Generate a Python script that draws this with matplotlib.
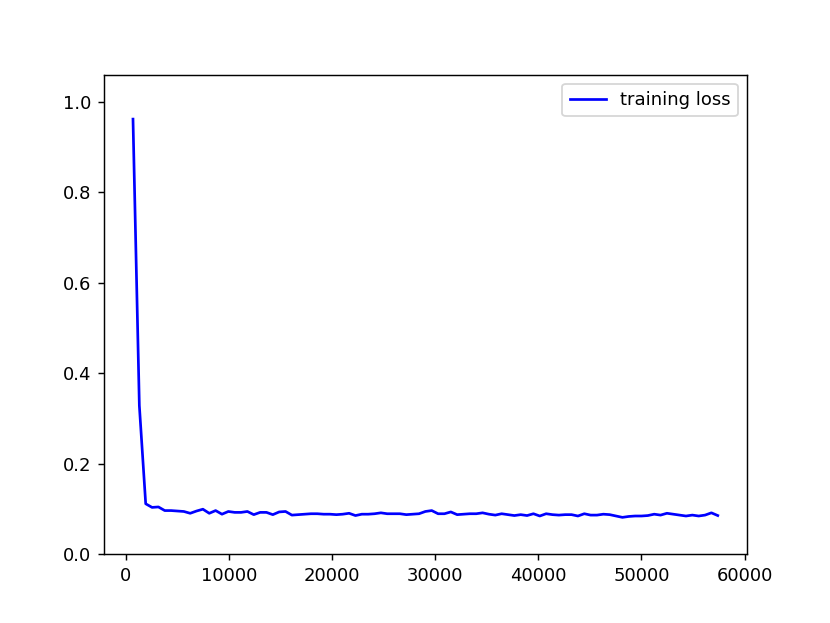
import matplotlib
matplotlib.use('Agg')
import matplotlib.pyplot as plt
import numpy as np

# training loss logged at equal step intervals
first_step = 680
last_step = 57400
loss = [0.962, 0.329, 0.112, 0.104, 0.105, 0.097, 0.097, 0.096, 0.095, 0.091,
        0.096, 0.100, 0.091, 0.097, 0.089, 0.095, 0.093, 0.093, 0.095, 0.088,
        0.093, 0.093, 0.088, 0.094, 0.095, 0.087, 0.088, 0.089, 0.090, 0.090,
        0.089, 0.089, 0.088, 0.089, 0.091, 0.086, 0.089, 0.089, 0.090, 0.092,
        0.090, 0.090, 0.090, 0.088, 0.089, 0.090, 0.095, 0.097,
        0.090, 0.090, 0.094, 0.088, 0.089, 0.090, 0.090, 0.092, 0.089, 0.087,
        0.090, 0.088, 0.086, 0.088, 0.086, 0.090, 0.085, 0.090, 0.088, 0.087,
        0.088, 0.088, 0.085, 0.090, 0.087, 0.087, 0.089, 0.088, 0.085, 0.082,
        0.084, 0.085, 0.085, 0.086, 0.089, 0.087, 0.091, 0.089, 0.087, 0.085,
        0.087, 0.085, 0.087, 0.092, 0.086]
steps = np.linspace(first_step, last_step, len(loss))

fig = plt.figure(figsize=(830 / 130, 623 / 130), dpi=130)
plt.plot(steps, loss, color='b', label='training loss')
plt.ylim(0, 1.06)
plt.legend(loc='upper right')
plt.savefig('out.png', dpi=130)
